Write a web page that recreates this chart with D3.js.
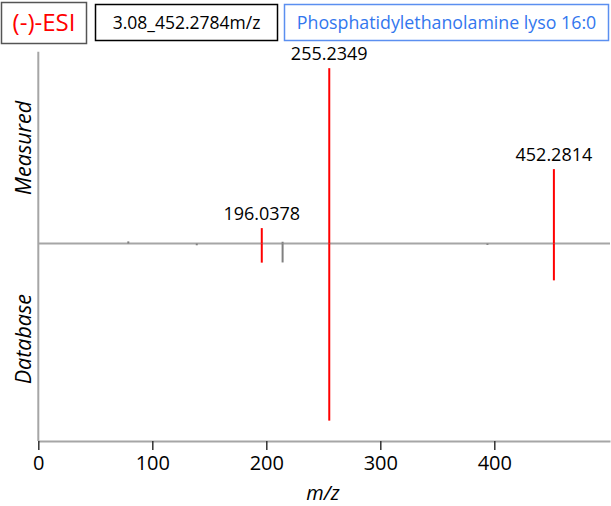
<!DOCTYPE html>
<html lang="en">
<head>
    <meta charset="UTF-8">
    <title>Mirror spectrum</title>
    <script src="https://d3js.org/d3.v7.min.js"></script>
    <style>
        body { margin: 0; background: #fff; }
        text { font-family: "Open Sans", sans-serif; }
    </style>
</head>
<body>
    <script>
        var w = 611;
        var h = 506;

        // header boxes
        var modeLabel = "(-)-ESI";
        var featureLabel = "3.08_452.2784m/z";
        var compoundLabel = "Phosphatidylethanolamine lyso 16:0";

        // measured spectrum (top half)
        var measuredMz = [78.96, 196.0378, 214.3, 255.2349, 452.2814];
        var measuredInt = [1.2, 8.7, 1.0, 99, 42];
        var measuredMatched = [false, true, false, true, true];

        // database spectrum (bottom half)
        var databaseMz = [139.0, 196.0378, 214.3, 255.2349, 394.0, 452.2814];
        var databaseInt = [1.0, 10.8, 10.7, 100, 0.8, 20.8];
        var databaseMatched = [false, true, false, true, false, true];

        var xTicks = [0, 100, 200, 300, 400];

        var axisColor = "#a6a6a6";

        var xScale = d3.scaleLinear()
                .domain([0, 501.5])
                .range([38.3, 610]);

        var yScale = d3.scaleLinear()
                .domain([-111.5, 108.3])
                .range([441, 51.7]);

        var svg = d3.select("body")
                .append("svg")
                .attr("width", w)
                .attr("height", h);

        // Header boxes
        var boxes = [
            { text: modeLabel, x: 1.5, y: 2.5, w: 85, h: 41, color: "#ff0000", border: "#555", size: 24 },
            { text: featureLabel, x: 95.5, y: 4.5, w: 182, h: 36, color: "#000", border: "#000", size: 17.5 },
            { text: compoundLabel, x: 284.5, y: 4.5, w: 324, h: 36, color: "#3377ee", border: "#5b8ff0", size: 17.8 }
        ];

        var head = svg.selectAll("g.box")
            .data(boxes)
            .enter()
            .append("g")
            .attr("class", "box");

        head.append("rect")
            .attr("x", function(d) { return d.x; })
            .attr("y", function(d) { return d.y; })
            .attr("width", function(d) { return d.w; })
            .attr("height", function(d) { return d.h; })
            .attr("fill", "#fff")
            .attr("stroke", function(d) { return d.border; })
            .attr("stroke-width", 1.5);

        head.append("text")
            .attr("x", function(d) { return d.x + d.w / 2; })
            .attr("y", function(d) { return d.y + d.h / 2; })
            .attr("dy", "0.35em")
            .attr("text-anchor", "middle")
            .attr("font-size", function(d) { return d.size + "px"; })
            .attr("fill", function(d) { return d.color; })
            .text(function(d) { return d.text; });

        // Axes
        svg.append("line")
            .attr("x1", xScale(0)).attr("x2", xScale(0))
            .attr("y1", yScale.range()[1]).attr("y2", yScale.range()[0])
            .attr("stroke", axisColor).attr("stroke-width", 2);

        var xAxis = d3.axisBottom(xScale)
            .tickValues(xTicks)
            .tickSize(9)
            .tickPadding(6)
            .tickSizeOuter(0);

        var gx = svg.append("g")
            .attr("transform", "translate(0," + yScale(-111.5) + ")")
            .call(xAxis);
        gx.select(".domain").attr("stroke", axisColor).attr("stroke-width", 2);
        gx.selectAll(".tick line").attr("stroke", "#333").attr("stroke-width", 1.5);
        gx.selectAll(".tick text")
            .attr("font-family", "Open Sans, sans-serif")
            .attr("font-size", "20px")
            .attr("fill", "#000");

        // zero line
        svg.append("line")
            .attr("x1", xScale(0)).attr("x2", xScale(501.5))
            .attr("y1", yScale(0)).attr("y2", yScale(0))
            .attr("stroke", axisColor).attr("stroke-width", 2);

        // Peaks
        function drawPeaks(mz, inten, matched, sign) {
            svg.selectAll(null)
                .data(mz)
                .enter()
                .append("line")
                .attr("x1", function(d) { return xScale(d); })
                .attr("x2", function(d) { return xScale(d); })
                .attr("y1", yScale(0))
                .attr("y2", function(d, i) { return yScale(sign * inten[i]); })
                .attr("stroke", function(d, i) { return matched[i] ? "#ff0000" : "#808080"; })
                .attr("stroke-width", 2);
        }
        drawPeaks(measuredMz, measuredInt, measuredMatched, 1);
        drawPeaks(databaseMz, databaseInt, databaseMatched, -1);

        // labels on matched measured peaks
        svg.selectAll("text.peak")
            .data(measuredMz.filter(function(d, i) { return measuredMatched[i]; }))
            .enter()
            .append("text")
            .attr("class", "peak")
            .attr("x", function(d) { return xScale(d); })
            .attr("y", function(d) {
                return yScale(measuredInt[measuredMz.indexOf(d)]) - 8;
            })
            .attr("text-anchor", "middle")
            .attr("font-size", "18px")
            .attr("fill", "#000")
            .text(function(d) { return d.toFixed(4); });

        // Axis titles
        svg.append("text")
            .attr("transform", "translate(31," + yScale(54) + ") rotate(-90)")
            .attr("text-anchor", "middle")
            .attr("font-size", "21.5px")
            .attr("font-style", "italic")
            .text("Measured");

        svg.append("text")
            .attr("transform", "translate(31," + yScale(-54) + ") rotate(-90)")
            .attr("text-anchor", "middle")
            .attr("font-size", "21.5px")
            .attr("font-style", "italic")
            .text("Database");

        svg.append("text")
            .attr("x", 323)
            .attr("y", 500)
            .attr("text-anchor", "middle")
            .attr("font-size", "20px")
            .attr("font-style", "italic")
            .text("m/z");
    </script>
</body>
</html>
